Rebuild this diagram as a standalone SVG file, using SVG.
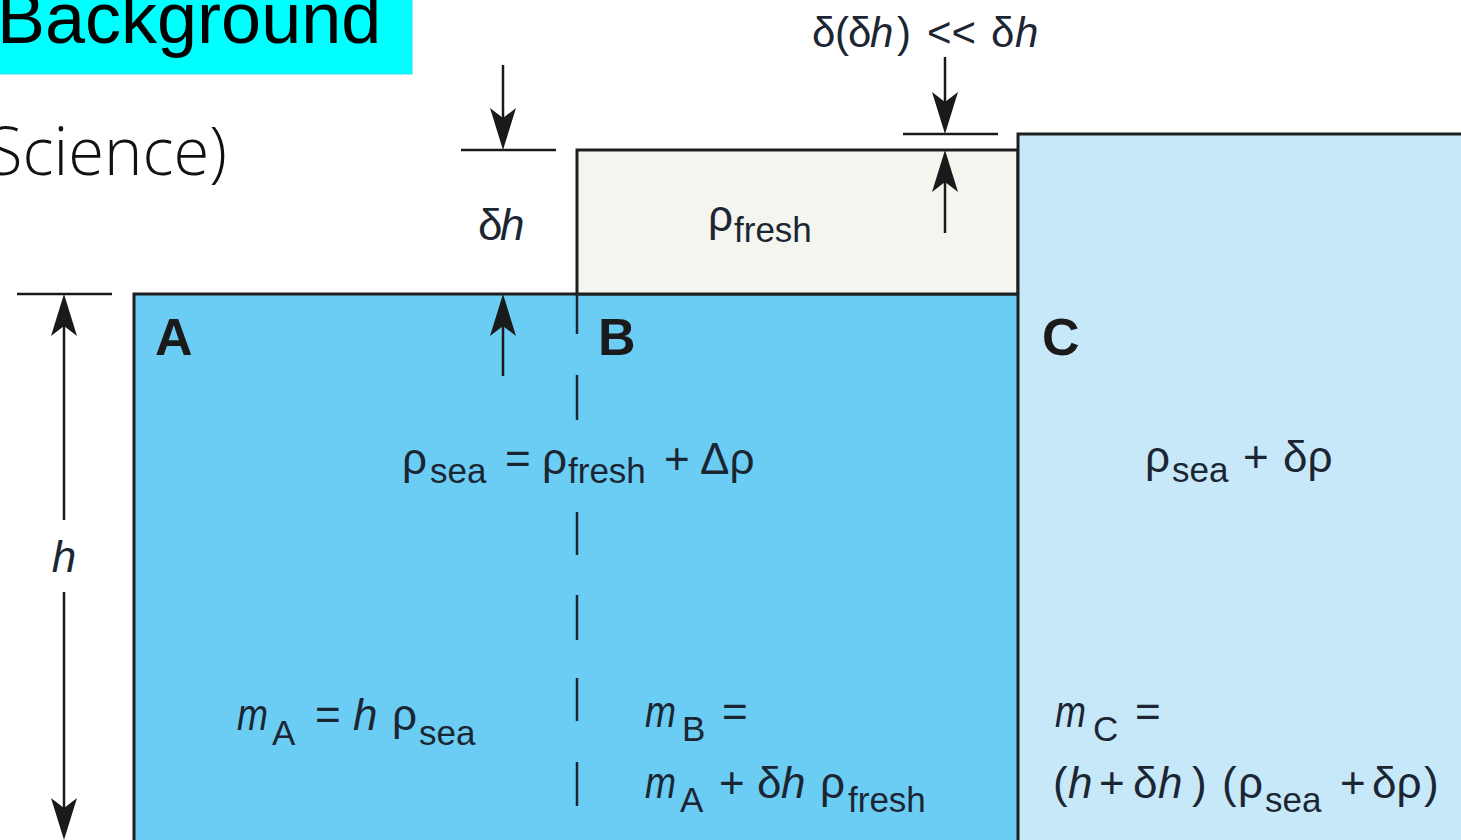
<svg xmlns="http://www.w3.org/2000/svg" width="1461" height="840" viewBox="0 0 1461 840">
<defs>
<style>
.t{font-family:"Liberation Sans",Arial,sans-serif;font-size:44px;fill:#1c2633}
.s{font-size:35px}
.i{font-style:italic}
.lab{font-family:"Liberation Sans",Arial,sans-serif;font-weight:bold;font-size:52px;fill:#1a1a1a}
.dim{stroke:#1a1a1a;stroke-width:2.5;fill:none}
.arr{stroke:#1a1a1a;stroke-width:2.5;fill:none;marker-end:url(#ah)}
.box{stroke:#1e1e1e;stroke-width:3}
.dash{stroke:#1c2633;stroke-width:2.5}
</style>
<marker id="ah" markerUnits="userSpaceOnUse" viewBox="-45 -15 50 30" markerWidth="50" markerHeight="30" refX="-32" refY="0" orient="auto">
<path d="M0,0 L-42,-13 L-32,0 L-42,13 Z" fill="#1a1a1a"/>
</marker>
</defs>
<rect x="0" y="0" width="1461" height="840" fill="#ffffff"/>

<g id="title">
<rect x="-2" y="-2" width="414" height="76" fill="#00ffff" stroke="#33ddee" stroke-width="1"/>
<text x="-3" y="43" font-family="Liberation Sans, Arial, sans-serif" font-size="72" fill="#000">Background</text>
<text x="-13" y="175" font-family="Open Sans, Liberation Sans, Arial, sans-serif" font-weight="300" font-size="66" fill="#111" textLength="240" lengthAdjust="spacingAndGlyphs">Science)</text>
</g>

<g id="boxA">
<rect class="box" x="134" y="294" width="900" height="570" fill="#6bcdf3"/>
<text class="lab" x="155" y="355">A</text>
<text class="t"><tspan class="i" x="237" y="730" textLength="31" lengthAdjust="spacingAndGlyphs">m</tspan><tspan class="s" x="272" y="745">A</tspan><tspan x="315" y="730">=</tspan><tspan class="i" x="353" y="730">h</tspan><tspan x="392" y="730">ρ</tspan><tspan class="s" x="419" y="745">sea</tspan></text>
</g>

<g id="boxFresh">
<rect class="box" x="577" y="150" width="441" height="144" fill="#f4f5ef"/>
<text class="t"><tspan x="708" y="231">ρ</tspan><tspan class="s" x="734" y="242">fresh</tspan></text>
</g>

<g id="boxB">
<text class="lab" x="598" y="355">B</text>
<text class="t"><tspan class="i" x="645" y="727" textLength="31" lengthAdjust="spacingAndGlyphs">m</tspan><tspan class="s" x="682" y="741">B</tspan><tspan x="722" y="727">=</tspan></text>
<text class="t"><tspan class="i" x="645" y="798" textLength="31" lengthAdjust="spacingAndGlyphs">m</tspan><tspan class="s" x="680" y="812">A</tspan><tspan x="719" y="798">+</tspan><tspan x="757" y="798">δ</tspan><tspan class="i" x="781" y="798">h</tspan><tspan x="820" y="798">ρ</tspan><tspan class="s" x="848" y="812">fresh</tspan></text>
</g>

<g id="boxC">
<rect class="box" x="1018" y="134" width="470" height="730" fill="#c7e8f9"/>
<text class="lab" x="1042" y="355">C</text>
<text class="t"><tspan x="1145" y="472">ρ</tspan><tspan class="s" x="1172" y="482">sea</tspan><tspan x="1243" y="472">+</tspan><tspan x="1283" y="472">δρ</tspan></text>
<text class="t"><tspan class="i" x="1055" y="727" textLength="31" lengthAdjust="spacingAndGlyphs">m</tspan><tspan class="s" x="1093" y="741">C</tspan><tspan x="1135" y="727">=</tspan></text>
<text class="t"><tspan x="1053" y="798">(</tspan><tspan class="i" x="1068" y="798">h</tspan><tspan x="1099" y="798">+</tspan><tspan x="1133" y="798">δ</tspan><tspan class="i" x="1158" y="798">h</tspan><tspan x="1192" y="798">)</tspan><tspan x="1222" y="798">(</tspan><tspan x="1238" y="798">ρ</tspan><tspan class="s" x="1265" y="812">sea</tspan><tspan x="1340" y="798">+</tspan><tspan x="1372" y="798">δρ</tspan><tspan x="1424" y="798">)</tspan></text>
</g>

<g id="connectors">
<line class="dash" x1="577" y1="294" x2="577" y2="334"/>
<line class="dash" x1="577" y1="375" x2="577" y2="420"/>
<line class="dash" x1="577" y1="512" x2="577" y2="555"/>
<line class="dash" x1="577" y1="595" x2="577" y2="640"/>
<line class="dash" x1="577" y1="678" x2="577" y2="721"/>
<line class="dash" x1="577" y1="762" x2="577" y2="806"/>
<line class="dim" x1="17" y1="294" x2="112" y2="294"/>
<line class="arr" x1="64" y1="520" x2="64" y2="326"/>
<line class="arr" x1="64" y1="592" x2="64" y2="808"/>
<line class="dim" x1="461" y1="150" x2="556" y2="150"/>
<line class="arr" x1="503" y1="65" x2="503" y2="118"/>
<line class="arr" x1="503" y1="376" x2="503" y2="326"/>
<line class="dim" x1="903" y1="134" x2="998" y2="134"/>
<line class="arr" x1="945" y1="57" x2="945" y2="102"/>
<line class="arr" x1="945" y1="233" x2="945" y2="182"/>
</g>

<g id="labels">
<text class="t i" x="64" y="572" text-anchor="middle" fill="#222">h</text>
<text class="t" fill="#333"><tspan x="478" y="240">δ</tspan><tspan class="i" x="500" y="240">h</tspan></text>
<text class="t" fill="#333" style="font-size:42px"><tspan x="812" y="47">δ</tspan><tspan x="835" y="47">(</tspan><tspan x="848" y="47">δ</tspan><tspan class="i" x="870" y="47">h</tspan><tspan x="897" y="47">)</tspan><tspan x="927" y="47">&lt;&lt;</tspan><tspan x="991" y="47">δ</tspan><tspan class="i" x="1015" y="47">h</tspan></text>
<text class="t"><tspan x="402" y="474">ρ</tspan><tspan class="s" x="430" y="483">sea</tspan><tspan x="505" y="474">=</tspan><tspan x="542" y="474">ρ</tspan><tspan class="s" x="568" y="483">fresh</tspan><tspan x="664" y="474">+</tspan><tspan x="700" y="474">Δρ</tspan></text>
</g>
</svg>
